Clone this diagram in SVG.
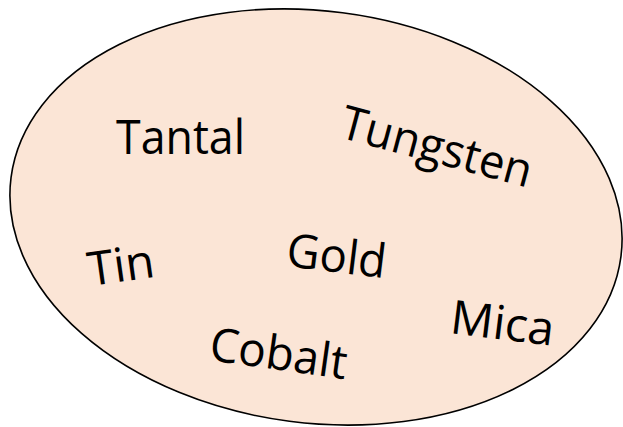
<svg xmlns="http://www.w3.org/2000/svg" width="623" height="427" viewBox="0 0 623 427">
<style>
.lbl{font-family:"Open Sans","Noto Sans","Liberation Sans",sans-serif;font-size:47px;fill:#000;}
.set{fill:#FBE5D6;stroke:#000;stroke-width:1.6;}
</style>
<rect width="623" height="427" fill="#fff"/>
<g id="set">
<ellipse class="set" cx="316" cy="217" rx="307.5" ry="206" transform="rotate(7.4 316 217)"/>
</g>
<g id="connectors"></g>
<g id="tantal"><text class="lbl" x="116" y="154" textLength="129" lengthAdjust="spacingAndGlyphs">Tantal</text></g>
<g id="tungsten"><text class="lbl" transform="translate(338 137) rotate(15)" textLength="196" lengthAdjust="spacingAndGlyphs">Tungsten</text></g>
<g id="tin"><text class="lbl" transform="translate(90 286) rotate(-8)" textLength="67" lengthAdjust="spacingAndGlyphs">Tin</text></g>
<g id="gold"><text class="lbl" transform="translate(285 266) rotate(7)" textLength="100" lengthAdjust="spacingAndGlyphs">Gold</text></g>
<g id="mica"><text class="lbl" transform="translate(449 333) rotate(7)" textLength="104" lengthAdjust="spacingAndGlyphs">Mica</text></g>
<g id="cobalt"><text class="lbl" transform="translate(208 360) rotate(8)" textLength="138" lengthAdjust="spacingAndGlyphs">Cobalt</text></g>
</svg>
